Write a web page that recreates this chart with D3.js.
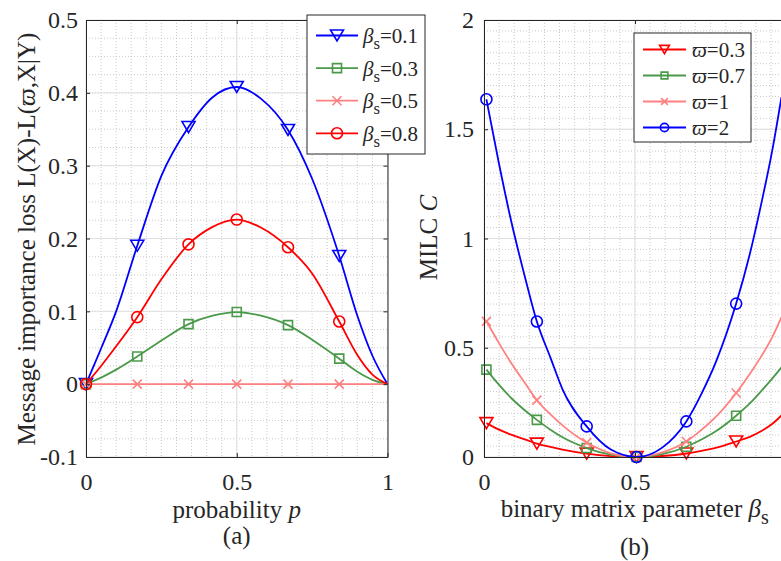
<!DOCTYPE html>
<html>
<head>
<meta charset="utf-8">
<script src="https://cdn.jsdelivr.net/npm/d3@7"></script>
<style>
  body { margin: 0; background: #fff; }
  svg { display: block; }
  text { font-family: "Liberation Serif", "Times New Roman", "DejaVu Serif", serif; fill: #262626; }
</style>
</head>
<body>
<svg id="fig" width="781" height="561"></svg>
<script>
// ---------- panel (a): message importance loss vs probability p ----------
const pGrid      = [0, 0.05, 0.1, 0.17, 0.25, 0.34, 0.42, 0.5, 0.58, 0.67, 0.75, 0.84, 0.9, 0.95, 1];
const lossBeta01 = [0, 0.049, 0.100, 0.190, 0.286, 0.353, 0.394, 0.408, 0.392, 0.349, 0.282, 0.176, 0.094, 0.039, 0];
const lossBeta03 = [0, 0.009, 0.020, 0.038, 0.060, 0.0825, 0.094, 0.099, 0.094, 0.081, 0.061, 0.035, 0.017, 0.006, 0];
const lossBeta05 = [0, 0, 0, 0, 0, 0, 0, 0, 0, 0, 0, 0, 0, 0, 0];
const lossBeta08 = [0, 0.025, 0.052, 0.092, 0.144, 0.192, 0.216, 0.226, 0.215, 0.188, 0.152, 0.086, 0.040, 0.013, 0];
const pMarkers   = [0, 0.17, 0.34, 0.5, 0.67, 0.84];
const aXTicks = [0, 0.5, 1];
const aXTickLabels = ["0", "0.5", "1"];
const aYTicks = [-0.1, 0, 0.1, 0.2, 0.3, 0.4, 0.5];
const aYTickLabels = ["-0.1", "0", "0.1", "0.2", "0.3", "0.4", "0.5"];
const aLegendValues = ["0.1", "0.3", "0.5", "0.8"];

// ---------- panel (b): MILC vs binary matrix parameter ----------
// the axis runs to beta_s = 1 just past the right edge of the figure
const bGrid     = [0.008, 0.05, 0.09, 0.14, 0.175, 0.22, 0.26, 0.34, 0.42, 0.505, 0.59, 0.67, 0.72, 0.77, 0.835, 0.88, 0.92, 0.955, 0.985];
const milcW03   = [0.155, 0.125, 0.102, 0.078, 0.061, 0.046, 0.034, 0.0155, 0.004, 0, 0.0045, 0.016, 0.028, 0.043, 0.071, 0.092, 0.120, 0.152, 0.190];
const milcW07   = [0.400, 0.330, 0.270, 0.208, 0.170, 0.125, 0.090, 0.041, 0.0105, 0, 0.013, 0.047, 0.080, 0.120, 0.189, 0.245, 0.305, 0.360, 0.410];
const milcW1    = [0.621, 0.520, 0.430, 0.330, 0.260, 0.195, 0.145, 0.066, 0.017, 0, 0.021, 0.071, 0.124, 0.187, 0.293, 0.380, 0.465, 0.550, 0.640];
const milcW2    = [1.637, 1.340, 1.080, 0.800, 0.620, 0.455, 0.310, 0.140, 0.034, 0, 0.043, 0.163, 0.289, 0.442, 0.702, 0.928, 1.171, 1.407, 1.647];
const bMarkers  = [0.008, 0.175, 0.34, 0.505, 0.67, 0.835];
const bXTicks = [0, 0.5];
const bXTickLabels = ["0", "0.5"];
const bYTicks = [0, 0.5, 1, 1.5, 2];
const bYTickLabels = ["0", "0.5", "1", "1.5", "2"];
const bLegendValues = ["0.3", "0.7", "1", "2"];

// ---------- styling ----------
const INK = "#262626";
const BLUE = "#0000ff", GREEN = "#4a9a4a", PINK = "#ff8080", RED = "#ff0000";
const TICK_FONT = 24, LABEL_FONT = 25, LEGEND_FONT = 21;

const markerPaths = {
  triangleDown: "M-6.5,-5.5L6.5,-5.5L0,5.5Z",
  square: "M-4.5,-4.5H4.5V4.5H-4.5Z",
  circle: "M5.5,0A5.5,5.5 0 1,1 -5.5,0A5.5,5.5 0 1,1 5.5,0Z",
  cross: "M-4.5,-4.5L4.5,4.5M-4.5,4.5L4.5,-4.5"
};

const svg = d3.select("#fig");
const defs = svg.append("defs");

function drawPanel(cfg) {
  const x = d3.scaleLinear().domain(cfg.xDomain).range([cfg.left, cfg.right]);
  const y = d3.scaleLinear().domain(cfg.yDomain).range([cfg.bottom, cfg.top]);
  const g = svg.append("g");

  // minor grid (dotted)
  const minor = g.append("g");
  minor.append("g").selectAll("line").data(cfg.xMinor).join("line")
    .attr("x1", d => x(d)).attr("x2", d => x(d))
    .attr("y1", cfg.top).attr("y2", cfg.bottom);
  minor.append("g").selectAll("line").data(cfg.yMinor).join("line")
    .attr("y1", d => y(d)).attr("y2", d => y(d))
    .attr("x1", cfg.left).attr("x2", cfg.right);
  minor.selectAll("line")
    .attr("stroke", "#bdbdbd").attr("stroke-width", 0.8).attr("stroke-dasharray", "1,2");

  // major grid (solid, light)
  const major = g.append("g");
  major.selectAll(".gx").data(cfg.xTicks).join("line").attr("class", "gx")
    .attr("x1", d => x(d)).attr("x2", d => x(d))
    .attr("y1", cfg.top).attr("y2", cfg.bottom);
  major.selectAll(".gy").data(cfg.yTicks).join("line").attr("class", "gy")
    .attr("y1", d => y(d)).attr("y2", d => y(d))
    .attr("x1", cfg.left).attr("x2", cfg.right);
  major.selectAll("line").attr("stroke", "#e0e0e0").attr("stroke-width", 1);

  // plot area clip for the curves
  const clipId = "clip-" + cfg.id;
  defs.append("clipPath").attr("id", clipId).append("rect")
    .attr("x", cfg.left).attr("y", cfg.top)
    .attr("width", cfg.right - cfg.left).attr("height", cfg.bottom - cfg.top);

  const line = d3.line()
    .x((d, i) => x(cfg.grid[i]))
    .y(d => y(d))
    .curve(d3.curveMonotoneX);

  cfg.series.forEach(s => {
    g.append("path")
      .attr("clip-path", `url(#${clipId})`)
      .attr("d", line(s.values))
      .attr("fill", "none").attr("stroke", s.color).attr("stroke-width", 1.8);
    const pts = cfg.markers.map(m => ({ x: m, y: s.values[cfg.grid.indexOf(m)] }));
    g.append("g").selectAll("path").data(pts).join("path")
      .attr("transform", d => `translate(${x(d.x)},${y(d.y)})`)
      .attr("d", markerPaths[s.marker])
      .attr("fill", "none").attr("stroke", s.color).attr("stroke-width", 1.6);
  });

  // axes with inward ticks, forming the box
  const axes = g.append("g");
  axes.append("g").attr("transform", `translate(0,${cfg.bottom})`)
    .call(d3.axisBottom(x).tickValues(cfg.xTicks)
      .tickFormat((d, i) => cfg.xTickLabels[i])
      .tickSizeInner(-4).tickSizeOuter(0).tickPadding(15.5));
  axes.append("g").attr("transform", `translate(0,${cfg.top})`)
    .call(d3.axisTop(x).tickValues(cfg.xTicks).tickFormat("")
      .tickSizeInner(-4).tickSizeOuter(0));
  axes.append("g").attr("transform", `translate(${cfg.left},0)`)
    .call(d3.axisLeft(y).tickValues(cfg.yTicks)
      .tickFormat((d, i) => cfg.yTickLabels[i])
      .tickSizeInner(-4).tickSizeOuter(0).tickPadding(cfg.yPad));
  axes.append("g").attr("transform", `translate(${cfg.right},0)`)
    .call(d3.axisRight(y).tickValues(cfg.yTicks).tickFormat("")
      .tickSizeInner(-4).tickSizeOuter(0));
  axes.selectAll(".domain").attr("stroke", INK).attr("stroke-width", 1);
  axes.selectAll(".tick line").attr("stroke", INK).attr("stroke-width", 1);
  axes.selectAll(".tick text")
    .attr("fill", INK).style("font-size", TICK_FONT + "px")
    .style("font-family", '"Liberation Serif", "Times New Roman", serif');

  return { x, y, g };
}

// ---- panel (a)
drawPanel({
  id: "a",
  left: 86, right: 387.5, top: 20, bottom: 457,
  xDomain: [0, 1], yDomain: [-0.1, 0.5],
  xTicks: aXTicks, xTickLabels: aXTickLabels,
  yTicks: aYTicks, yTickLabels: aYTickLabels,
  xMinor: d3.range(0.05, 1, 0.05), yMinor: d3.range(-0.075, 0.5, 0.025),
  yPad: 8,
  grid: pGrid, markers: pMarkers,
  series: [
    { values: lossBeta01, color: BLUE,  marker: "triangleDown" },
    { values: lossBeta03, color: GREEN, marker: "square" },
    { values: lossBeta05, color: PINK,  marker: "cross" },
    { values: lossBeta08, color: RED,   marker: "circle" }
  ]
});

// ---- panel (b)
drawPanel({
  id: "b",
  left: 484, right: 786, top: 20, bottom: 457,
  xDomain: [0, 1], yDomain: [0, 2],
  xTicks: bXTicks, xTickLabels: bXTickLabels,
  yTicks: bYTicks, yTickLabels: bYTickLabels,
  xMinor: d3.range(0.05, 1, 0.05), yMinor: d3.range(0.05, 2, 0.05),
  yPad: 10,
  grid: bGrid, markers: bMarkers,
  series: [
    { values: milcW03, color: RED,   marker: "triangleDown" },
    { values: milcW07, color: GREEN, marker: "square" },
    { values: milcW1,  color: PINK,  marker: "cross" },
    { values: milcW2,  color: BLUE,  marker: "circle" }
  ]
});

// ---------- axis labels ----------
function label(x, y, parts, size, rotate) {
  const t = svg.append("text")
    .attr("transform", `translate(${x},${y})` + (rotate ? " rotate(-90)" : ""))
    .attr("text-anchor", "middle")
    .style("font-size", size + "px");
  parts.forEach(p => {
    const ts = t.append("tspan").text(p.t);
    if (p.i) ts.style("font-style", "italic");
    if (p.sub) ts.style("font-size", "0.8em");
    if (p.dy) ts.attr("dy", p.dy);
  });
  return t;
}

label(35, 239, [
  { t: "Message importance loss L(X)-L(" }, { t: "\u03D6", i: true }, { t: ",X|Y)" }
], LABEL_FONT, true);
label(436.5, 237.5, [{ t: "MILC " }, { t: "C", i: true }], LABEL_FONT, true);

label(236.7, 518, [{ t: "probability " }, { t: "p", i: true }], LABEL_FONT);
label(236.7, 544, [{ t: "(a)" }], LABEL_FONT);
label(634.7, 516.5, [
  { t: "binary matrix parameter " }, { t: "\u03B2", i: true }, { t: "s", sub: true, dy: 7 }
], LABEL_FONT);
label(634.5, 555, [{ t: "(b)" }], LABEL_FONT);

// ---------- legends ----------
function legend(cfg) {
  const g = svg.append("g");
  g.append("rect")
    .attr("x", cfg.x).attr("y", cfg.y).attr("width", cfg.w).attr("height", cfg.h)
    .attr("fill", "#fff").attr("stroke", INK).attr("stroke-width", 1);
  cfg.items.forEach((it, i) => {
    const cy = cfg.firstY + i * cfg.step;
    g.append("line")
      .attr("x1", cfg.lineX0).attr("x2", cfg.lineX1).attr("y1", cy).attr("y2", cy)
      .attr("stroke", it.color).attr("stroke-width", 1.8);
    g.append("path")
      .attr("transform", `translate(${(cfg.lineX0 + cfg.lineX1) / 2},${cy}) scale(${cfg.markerScale})`)
      .attr("d", markerPaths[it.marker])
      .attr("fill", "none").attr("stroke", it.color).attr("stroke-width", 1.6 / cfg.markerScale);
    const t = g.append("text")
      .attr("x", cfg.textX).attr("y", cy + 7.5)
      .style("font-size", LEGEND_FONT + "px");
    it.parts.forEach(p => {
      const ts = t.append("tspan").text(p.t);
      if (p.i) ts.style("font-style", "italic");
      if (p.sub) ts.style("font-size", "0.8em");
      if (p.dy) ts.attr("dy", p.dy);
    });
  });
}

legend({
  x: 307, y: 15, w: 118, h: 139,
  firstY: 35.5, step: 32.6, lineX0: 316, lineX1: 358, textX: 363, markerScale: 1,
  items: [
    { color: BLUE,  marker: "triangleDown" },
    { color: GREEN, marker: "square" },
    { color: PINK,  marker: "cross" },
    { color: RED,   marker: "circle" }
  ].map((d, i) => ({
    ...d,
    parts: [{ t: "\u03B2", i: true }, { t: "s", sub: true, dy: 6 }, { t: "=" + aLegendValues[i], dy: -6 }]
  }))
});

legend({
  x: 634, y: 33, w: 117, h: 109,
  firstY: 49.5, step: 26, lineX0: 643, lineX1: 686, textX: 692, markerScale: 0.75,
  items: [
    { color: RED,   marker: "triangleDown" },
    { color: GREEN, marker: "square" },
    { color: PINK,  marker: "cross" },
    { color: BLUE,  marker: "circle" }
  ].map((d, i) => ({
    ...d,
    parts: [{ t: "\u03D6", i: true }, { t: "=" + bLegendValues[i] }]
  }))
});
</script>
</body>
</html>
